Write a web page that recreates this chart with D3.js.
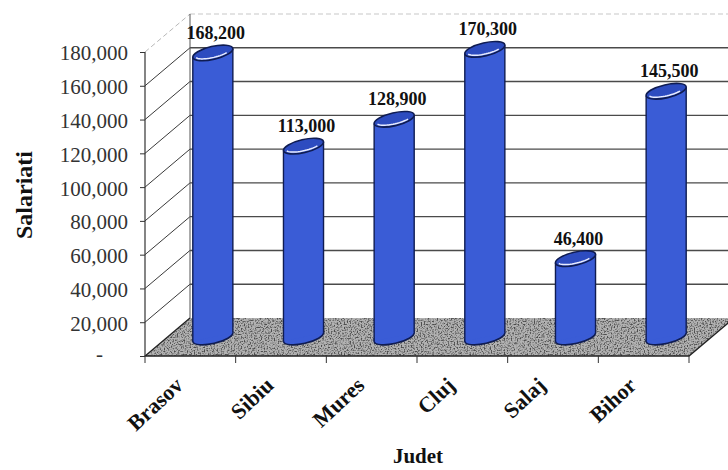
<!DOCTYPE html>
<html><head><meta charset="utf-8">
<script src="https://cdn.jsdelivr.net/npm/d3@7"></script>
<style>html,body{margin:0;padding:0;background:#fff;}svg{display:block;}</style>
</head><body>
<svg id="chart" width="728" height="470"></svg>
<script>
const categories = ["Brasov", "Sibiu", "Mures", "Cluj", "Salaj", "Bihor"];
const values = [168200, 113000, 128900, 170300, 46400, 145500];
const valueLabels = ["168,200", "113,000", "128,900", "170,300", "46,400", "145,500"];
const tickValues = [0, 20000, 40000, 60000, 80000, 100000, 120000, 140000, 160000, 180000];
const tickLabels = ["-", "20,000", "40,000", "60,000", "80,000", "100,000", "120,000", "140,000", "160,000", "180,000"];
const yTitle = "Salariati";
const xTitle = "Judet";

const svg = d3.select("#chart");
const DX = 45, DY = -38;              // depth offset of the 3D box
const x = d3.scaleBand().domain(categories).range([145, 689]).paddingInner(0).paddingOuter(0);
const y = d3.scaleLinear().domain([0, 180000]).range([356, 52]);
const x0 = x.range()[0], x1 = x.range()[1];
const FONT = "'Liberation Serif','Times New Roman',serif";

// defs: speckle filter for floor
const defs = svg.append("defs");
const f = defs.append("filter").attr("id", "speckle").attr("x", 0).attr("y", 0).attr("width", "100%").attr("height", "100%")
  .attr("color-interpolation-filters", "sRGB");
f.append("feTurbulence").attr("type", "fractalNoise").attr("baseFrequency", 0.7).attr("numOctaves", 1).attr("seed", 4).attr("result", "noise");
f.append("feColorMatrix").attr("in", "noise").attr("type", "matrix")
  .attr("values", "0 0 0 0 0.3  0 0 0 0 0.3  0 0 0 0 0.3  4 0 0 0 -1.85").attr("result", "dots");
f.append("feComposite").attr("in", "dots").attr("in2", "SourceGraphic").attr("operator", "atop");

const g = svg.append("g");

// back wall gridlines
tickValues.forEach((t, i) => {
  if (t === 0) return;
  const yy = y(t) + DY;
  const top = i === tickValues.length - 1;
  g.append("line").attr("x1", x0 + DX).attr("x2", x1 + DX).attr("y1", yy).attr("y2", yy)
    .attr("stroke", top ? "#c8c8c8" : "#4a4a4a").attr("stroke-width", top ? 1.2 : 1.4)
    .attr("stroke-dasharray", top ? "5,3" : null);
  // side wall diagonals
  g.append("line").attr("x1", x0).attr("y1", y(t)).attr("x2", x0 + DX).attr("y2", yy)
    .attr("stroke", top ? "#b8b8b8" : "#3a3a3a").attr("stroke-width", 1)
    .attr("stroke-dasharray", top ? "5,3" : null);
});
// back-left vertical edge of side wall
g.append("line").attr("x1", x0 + DX).attr("x2", x0 + DX).attr("y1", y(180000) + DY).attr("y2", y(0) + DY)
  .attr("stroke", "#555").attr("stroke-width", 1);

// floor
const floorPts = [[x0, y(0)], [x1, y(0)], [x1 + DX, y(0) + DY], [x0 + DX, y(0) + DY]];
g.append("polygon").attr("points", floorPts.map(p => p.join(",")).join(" "))
  .attr("fill", "#b2b2b2").attr("filter", "url(#speckle)");
g.append("polyline").attr("points", [[x0 + DX, y(0) + DY], [x0, y(0)], [x1, y(0)], [x1 + DX, y(0) + DY]].map(p => p.join(",")).join(" "))
  .attr("fill", "none").attr("stroke", "#222").attr("stroke-width", 1.3);

// category boundary ticks on floor front edge
categories.concat([null]).forEach((c, i) => {
  const xx = c ? x(c) : x1;
  g.append("line").attr("x1", xx).attr("x2", xx).attr("y1", y(0)).attr("y2", y(0) + 7)
    .attr("stroke", "#333").attr("stroke-width", 1);
});

// front value axis
const axis = d3.axisLeft(y).tickValues(tickValues).tickFormat((d, i) => tickLabels[i]).tickSize(5).tickPadding(12);
const ag = svg.append("g").attr("transform", `translate(${x0},0)`).call(axis);
ag.select(".domain").attr("stroke", "#333").attr("stroke-width", 1.2).attr("d", `M-0,${y(180000)}V${y(0)}`);
ag.selectAll(".tick line").attr("stroke", "#333");
ag.selectAll(".tick text").attr("font-family", FONT).attr("font-size", 21).attr("fill", "#333").attr("dy", "0.38em");
ag.selectAll(".tick").filter(d => d === 0).select("text").attr("x", -42).attr("dy", "0.2em");

// cylinders
const A = 20.5, B = 6.5, PHI = -13 * Math.PI / 180;
const halfW = Math.sqrt(A * A * Math.cos(PHI) ** 2 + B * B * Math.sin(PHI) ** 2);
const yOff = (A * A - B * B) * Math.sin(PHI) * Math.cos(PHI) / halfW; // y offset of rightmost point
const deg = PHI * 180 / Math.PI;
const BODY = "#3a5cd6", TOP = "#2d4cc0", EDGE = "#0f1c52";

categories.forEach((c, i) => {
  const v = values[i];
  const cx = x(c) + x.bandwidth() / 2 + DX / 2;
  const yt = y(v) + DY / 2, yb = y(0) + DY / 2;
  const cg = g.append("g");
  cg.append("ellipse").attr("cx", cx).attr("cy", yb).attr("rx", A).attr("ry", B)
    .attr("transform", `rotate(${deg},${cx},${yb})`).attr("fill", BODY).attr("stroke", EDGE).attr("stroke-width", 1.6);
  cg.append("polygon").attr("points", [[cx - halfW, yt - yOff], [cx + halfW, yt + yOff], [cx + halfW, yb + yOff], [cx - halfW, yb - yOff]].map(p => p.join(",")).join(" "))
    .attr("fill", BODY);
  cg.append("line").attr("x1", cx - halfW).attr("x2", cx - halfW).attr("y1", yt - yOff).attr("y2", yb - yOff).attr("stroke", EDGE).attr("stroke-width", 1.4);
  cg.append("line").attr("x1", cx + halfW).attr("x2", cx + halfW).attr("y1", yt + yOff).attr("y2", yb + yOff).attr("stroke", EDGE).attr("stroke-width", 1.4);
  cg.append("ellipse").attr("cx", cx).attr("cy", yt).attr("rx", A).attr("ry", B)
    .attr("transform", `rotate(${deg},${cx},${yt})`).attr("fill", TOP).attr("stroke", EDGE).attr("stroke-width", 1.6);
  // highlight arc on the top ellipse
  const pts = d3.range(0.22, 0.95, 0.04).map(tt => {
    const t = tt * Math.PI, a = A * 0.86, b = B * 0.7;
    const ex = a * Math.cos(t), ey = b * Math.sin(t);
    return [cx + ex * Math.cos(PHI) - ey * Math.sin(PHI), yt + ex * Math.sin(PHI) + ey * Math.cos(PHI)];
  });
  cg.append("path").attr("d", d3.line()(pts)).attr("fill", "none").attr("stroke", "#e8ecff").attr("stroke-width", 1.5);
  // value label
  svg.append("text").attr("x", cx + 3).attr("y", yt - 14).attr("text-anchor", "middle")
    .attr("font-family", FONT).attr("font-weight", "bold").attr("font-size", 18).attr("fill", "#111")
    .text(valueLabels[i]);
});

// category labels
categories.forEach(c => {
  const cx = x(c) + x.bandwidth() / 2;
  svg.append("text").attr("transform", `translate(${cx - 6},387) rotate(-43)`).attr("text-anchor", "end")
    .attr("font-family", FONT).attr("font-weight", "bold").attr("font-size", 22).attr("fill", "#111").text(c);
});

// axis titles
svg.append("text").attr("transform", "translate(32,195) rotate(-90)").attr("text-anchor", "middle")
  .attr("font-family", FONT).attr("font-weight", "bold").attr("font-size", 24).attr("fill", "#111").text(yTitle);
svg.append("text").attr("x", 418).attr("y", 463).attr("text-anchor", "middle")
  .attr("font-family", FONT).attr("font-weight", "bold").attr("font-size", 21).attr("fill", "#111").text(xTitle);
</script>
</body></html>
